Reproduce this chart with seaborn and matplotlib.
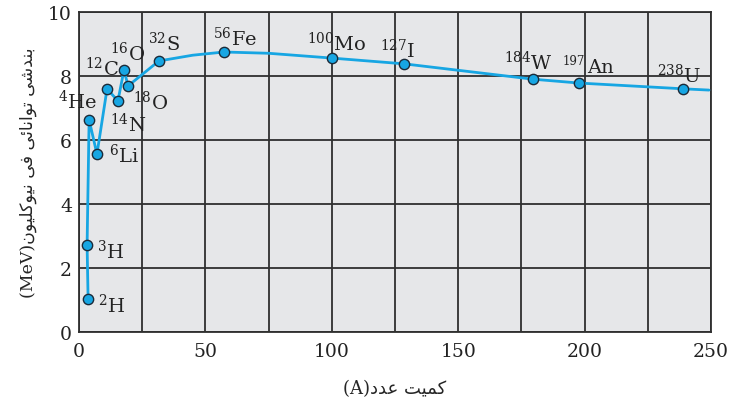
import matplotlib
matplotlib.use("Agg")
import matplotlib.pyplot as plt
import seaborn as sns
import pandas as pd

# ── Data ────────────────────────────────────────────────────────────────────
mass_labels = ["2", "3", "4", "6", "12", "14", "16", "18", "32", "56",
               "100", "127", "184", "197", "238"]
symbols = ["H", "H", "He", "Li", "C", "N", "O", "O", "S", "Fe",
           "Mo", "I", "W", "An", "U"]
point_a = [3.6, 3.2, 4.0, 7.1, 11.1, 15.4, 17.8, 19.4, 31.6, 57.4,
           100.0, 128.6, 179.6, 197.8, 238.9]
point_e = [1.03, 2.72, 6.63, 5.56, 7.60, 7.22, 8.19, 7.69, 8.47, 8.75,
           8.56, 8.38, 7.90, 7.78, 7.60]

# curve drawn through the points (a few extra points where it bends)
curve_a = [3.6, 3.2, 4.0, 7.1, 11.1, 15.4, 17.8, 19.4, 31.6, 45.0, 57.4,
           75.0, 100.0, 128.6, 179.6, 197.8, 238.9, 249.2]
curve_e = [1.03, 2.72, 6.63, 5.56, 7.60, 7.22, 8.19, 7.69, 8.47, 8.65, 8.75,
           8.71, 8.56, 8.38, 7.90, 7.78, 7.60, 7.56]

x_ticks = [0, 50, 100, 150, 200, 250]
y_ticks = [0, 2, 4, 6, 8, 10]


def visual(s):
    # Arabic-script text: glyphs are given as presentation forms, reverse for LTR drawing
    return s[::-1]


# کمیت عدد
xlabel_ur = ("\uFB90\uFEE4\uFBFF\uFE96" + " " + "\uFECB\uFEAA\uFEA9")
# بندشی توانائی فی نیوکلیون
ylabel_ur = ("\uFE91\uFEE8\uFEAA\uFEB7\uFBFD" + " "
             + "\uFE97\uFEEE\uFE8D\uFEE7\uFE8E\uFE8B\uFBFD" + " "
             + "\uFED3\uFBFD" + " "
             + "\uFEE7\uFBFF\uFEEE\uFB90\uFEE0\uFBFF\uFEEE\uFEE5")

points = pd.DataFrame({"A": point_a, "E": point_e})
curve = pd.DataFrame({"A": curve_a, "E": curve_e})

# label layout (pixel offsets from marker, horizontal alignment)
label_layout = [(10, -5, "left"), (10, -5, "left"), (8, 20, "right"),
                (12, 0, "left"), (-22, 22, "left"), (-8, -22, "left"),
                (-14, 18, "left"), (5, -15, "left"), (-11, 19, "left"),
                (-11, 15, "left"), (-25, 16, "left"), (-24, 15, "left"),
                (-29, 18, "left"), (8, 16, "left"), (-26, 15, "left")]

sns.set_style("white")
plt.rcParams.update({
    "font.family": ["DejaVu Serif", "DejaVu Sans"],
    "mathtext.fontset": "dejavuserif",
})

line_color = "#17a6e3"
grid_color = "#2f2f2f"

fig = plt.figure(figsize=(7.44, 4.06), dpi=100)
ax = fig.add_axes([79 / 744, 1 - 333 / 406, 632 / 744, 320 / 406])
ax.set_facecolor("#e6e7e9")

sns.lineplot(data=curve, x="A", y="E", sort=False, estimator=None,
             color=line_color, linewidth=2.0, ax=ax, zorder=3)
sns.scatterplot(data=points, x="A", y="E", color=line_color, s=55,
                edgecolor="#1b2a38", linewidth=1.0, ax=ax, zorder=4)

for m, sym, a, e, (dx, dy, ha) in zip(mass_labels, symbols, point_a, point_e,
                                       label_layout):
    if sym == "An":
        ax.annotate(m, (a, e), xytext=(-16, 23), textcoords="offset pixels",
                    ha="left", va="center", fontsize=8.5, color="#222222")
        txt = sym
    else:
        txt = f"$^{{{m}}}$" + sym
    ax.annotate(txt, (a, e), xytext=(dx, dy), textcoords="offset pixels",
                ha=ha, va="center", fontsize=14, color="#222222", zorder=5)

ax.set_xlim(0, 250)
ax.set_ylim(0, 10)
ax.set_xticks(x_ticks)
ax.set_xticks([25, 75, 125, 175, 225], minor=True)
ax.set_yticks(y_ticks)
ax.grid(True, which="both", color=grid_color, linewidth=1.3, zorder=1)
ax.set_axisbelow(True)
ax.tick_params(which="both", length=0, labelsize=13.5, colors="#222222")
ax.tick_params(axis="x", pad=7)
ax.tick_params(axis="y", pad=5)
for sp in ax.spines.values():
    sp.set_color(grid_color)
    sp.set_linewidth(1.3)

ax.set_xlabel("(A)" + visual(xlabel_ur), fontsize=13,
              family=["DejaVu Serif", "DejaVu Sans"], labelpad=14)
ax.set_ylabel("(MeV)" + visual(ylabel_ur), fontsize=12.5,
              family=["DejaVu Serif", "DejaVu Sans"], labelpad=8)

plt.savefig("out.png", dpi=100)
plt.close()
